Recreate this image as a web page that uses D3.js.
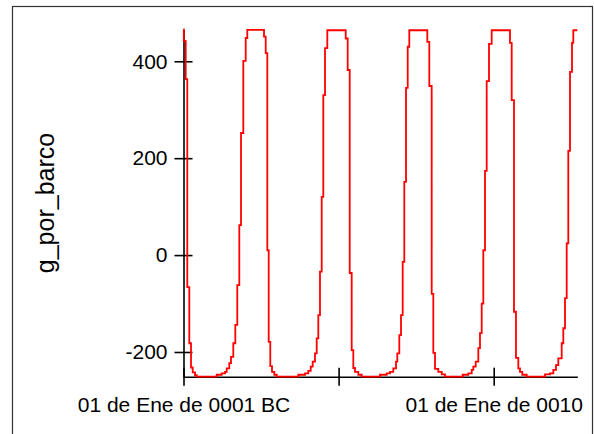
<!DOCTYPE html>
<html>
<head>
<meta charset="utf-8">
<script src="https://cdn.jsdelivr.net/npm/d3@7"></script>
<style>
  body { margin: 0; background: #fff; }
  text { font-family: "Liberation Sans", Arial, sans-serif; fill: #000; }
</style>
</head>
<body>
<div id="chart"></div>
<script>

// time in years from 01 Jan 0001 BC, value where each step starts
var years = [
  0, 0.01, 0.071, 0.122, 0.187, 0.242, 0.297, 0.371, 0.426,
  1.070, 1.231, 1.338, 1.393, 1.476, 1.531, 1.605, 1.670, 1.734, 1.799, 1.854, 1.928, 2.005, 2.057,
  2.595, 2.650, 2.702, 2.747, 2.798, 2.853, 2.927, 3.005,
  3.701, 3.917, 4.023, 4.101, 4.165, 4.239, 4.294, 4.346, 4.400, 4.455, 4.507, 4.562, 4.636,
  5.229, 5.293, 5.358, 5.422, 5.474, 5.529, 5.635, 5.745,
  6.335, 6.551, 6.657, 6.763, 6.851, 6.892, 6.957, 7.012, 7.066, 7.118, 7.173, 7.228, 7.279,
  7.860, 7.924, 8.001, 8.053, 8.108, 8.214, 8.324, 8.430,
  9.001, 9.181, 9.291, 9.342, 9.420, 9.504, 9.558, 9.613, 9.665, 9.720, 9.774, 9.848, 9.935,
  10.525, 10.580, 10.654, 10.718, 10.793, 10.847, 10.922, 11.064,
  11.654, 11.815, 11.921, 12.008, 12.083, 12.192, 12.244, 12.299, 12.353, 12.405, 12.460, 12.524, 12.566,
  12.695
];
var g_por_barco = [
  466, 442, 363, -66, -182, -232, -242, -248, -251,
  -247, -244, -241, -234, -223, -210, -182, -144, -62, 62, 252, 401, 448, 465,
  451, 417, 10, -179, -229, -241, -247, -251,
  -247, -244, -239, -230, -220, -203, -172, -124, -34, 120, 330, 427, 464,
  447, 382, -37, -196, -233, -241, -247, -251,
  -247, -244, -241, -234, -220, -203, -165, -124, -14, 151, 345, 430, 464,
  440, 349, -80, -202, -235, -241, -246, -251,
  -247, -244, -237, -230, -220, -192, -161, -100, 10, 174, 359, 436, 464,
  438, 320, -117, -212, -234, -241, -247, -251,
  -246, -244, -237, -227, -213, -182, -151, -89, 24, 215, 378, 438, 464,
  464
];

var xTicks = [0, 5, 10];
var xTickLabels = ["01 de Ene de 0001 BC", "", "01 de Ene de 0010"];
var yTicks = [-200, 0, 200, 400];

var width = 594, height = 434;

var svg = d3.select("#chart")
  .append("svg")
    .attr("width", width)
    .attr("height", height);

// outer frame (runs off the bottom of the picture)
svg.append("rect")
  .attr("x", 12.5)
  .attr("y", 6.5)
  .attr("width", 580)
  .attr("height", 450)
  .attr("fill", "none")
  .attr("stroke", "#333")
  .attr("stroke-width", 1.2);

var data = years.map(function(t, i) { return {t: t, v: g_por_barco[i]}; });

var x = d3.scaleLinear()
  .domain(d3.extent(years))
  .range([183.5, 577.3]);

var y = d3.scaleLinear()
  .domain(d3.extent(g_por_barco))
  .range([376.7, 29.3]);

// X axis
var xAxis = svg.append("g")
  .attr("transform", "translate(0," + y(d3.min(g_por_barco)) + ")")
  .call(d3.axisBottom(x)
    .tickValues(xTicks)
    .tickFormat(function(d, i) { return xTickLabels[i]; })
    .tickSize(9)
    .tickSizeOuter(0)
    .tickPadding(11));
xAxis.selectAll(".tick line").attr("y1", -9);

// Y axis
var yAxis = svg.append("g")
  .attr("transform", "translate(" + x(0) + ",0)")
  .call(d3.axisLeft(y)
    .tickValues(yTicks)
    .tickFormat(function(d) { return String(d); })
    .tickSize(9)
    .tickSizeOuter(0)
    .tickPadding(7));
yAxis.selectAll(".tick line").attr("x1", 9);

svg.selectAll(".domain, .tick line")
  .attr("stroke", "#000")
  .attr("stroke-width", 1.6);
svg.selectAll(".tick text")
  .style("font-size", "21px")
  .attr("fill", "#000");

// y label
svg.append("text")
  .attr("transform", "translate(54,203)rotate(-90)")
  .attr("text-anchor", "middle")
  .style("font-size", "25px")
  .text("g_por_barco");

// line
svg.append("path")
  .datum(data)
  .attr("fill", "none")
  .attr("stroke", "#ff0000")
  .attr("stroke-width", 1.8)
  .attr("d", d3.line()
    .curve(d3.curveStepAfter)
    .x(function(d) { return x(d.t); })
    .y(function(d) { return y(d.v); }));

</script>
</body>
</html>
